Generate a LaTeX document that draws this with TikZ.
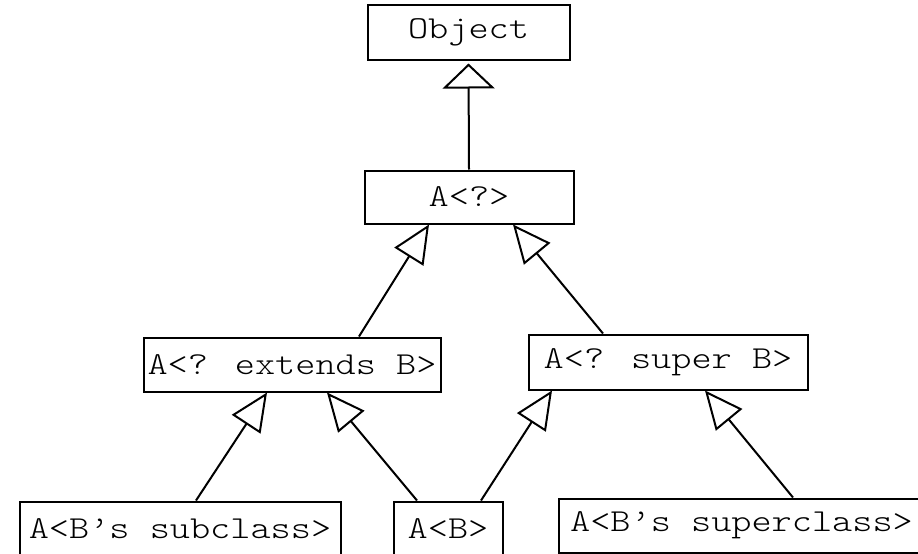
\documentclass[tikz,border=0pt]{standalone}
\usepackage{fontspec}
\newfontfamily\codefont[FakeStretch=1.2]{lmmonolt10-regular.otf}
\usetikzlibrary{arrows.meta}
\begin{document}
\begin{tikzpicture}[x=1pt,y=-1pt,
  cls/.style={draw, line width=2pt, inner sep=0pt, font=\codefont\fontsize{32}{40}\selectfont},
  inhvert/.style={line width=2pt, -{Triangle[open, length=25pt, width=52pt, line width=2pt]}},
  inh/.style={line width=2pt, -{Triangle[open, length=38pt, width=34pt, line width=2pt]}}]
  \useasboundingbox (0,0) rectangle (918,554);
  \clip (0,0) rectangle (918,554);

  % class boxes
  \node[cls, minimum width=202pt, minimum height=55pt] (obj) at (468.5,32) {Object};
  \node[cls, minimum width=209pt, minimum height=53pt] (aq) at (469,197) {A<?>};
  \node[cls, minimum width=297pt, minimum height=54pt] (ext) at (292,364.5) {A<? extends B>};
  \node[cls, minimum width=279pt, minimum height=55pt] (sup) at (668,362) {A<? super B>};
  \node[cls, minimum width=321pt, minimum height=54pt] (sub) at (180,528.5) {A<B’s subclass>};
  \node[cls, minimum width=109pt, minimum height=54pt] (ab) at (448,528.5) {A<B>};
  \node[cls, minimum width=366pt, minimum height=54pt] (supc) at (741.5,525.5) {A<B’s superclass>};

  % inheritance arrows
  \draw[inhvert] (aq.north) -- ([yshift=-3pt]obj.south);
  \draw[inh] ([xshift=67pt]ext.north) -- ([xshift=-40pt]aq.south);
  \draw[inh] ([xshift=-65pt]sup.north) -- ([xshift=44pt]aq.south);
  \draw[inh] ([xshift=16pt]sub.north) -- ([xshift=-25pt]ext.south);
  \draw[inh] ([xshift=-31pt]ab.north) -- ([xshift=35pt]ext.south);
  \draw[inh] ([xshift=33pt]ab.north) -- ([xshift=-116pt]sup.south);
  \draw[inh] ([xshift=51.5pt]supc.north) -- ([xshift=37pt]sup.south);
\end{tikzpicture}
\end{document}
